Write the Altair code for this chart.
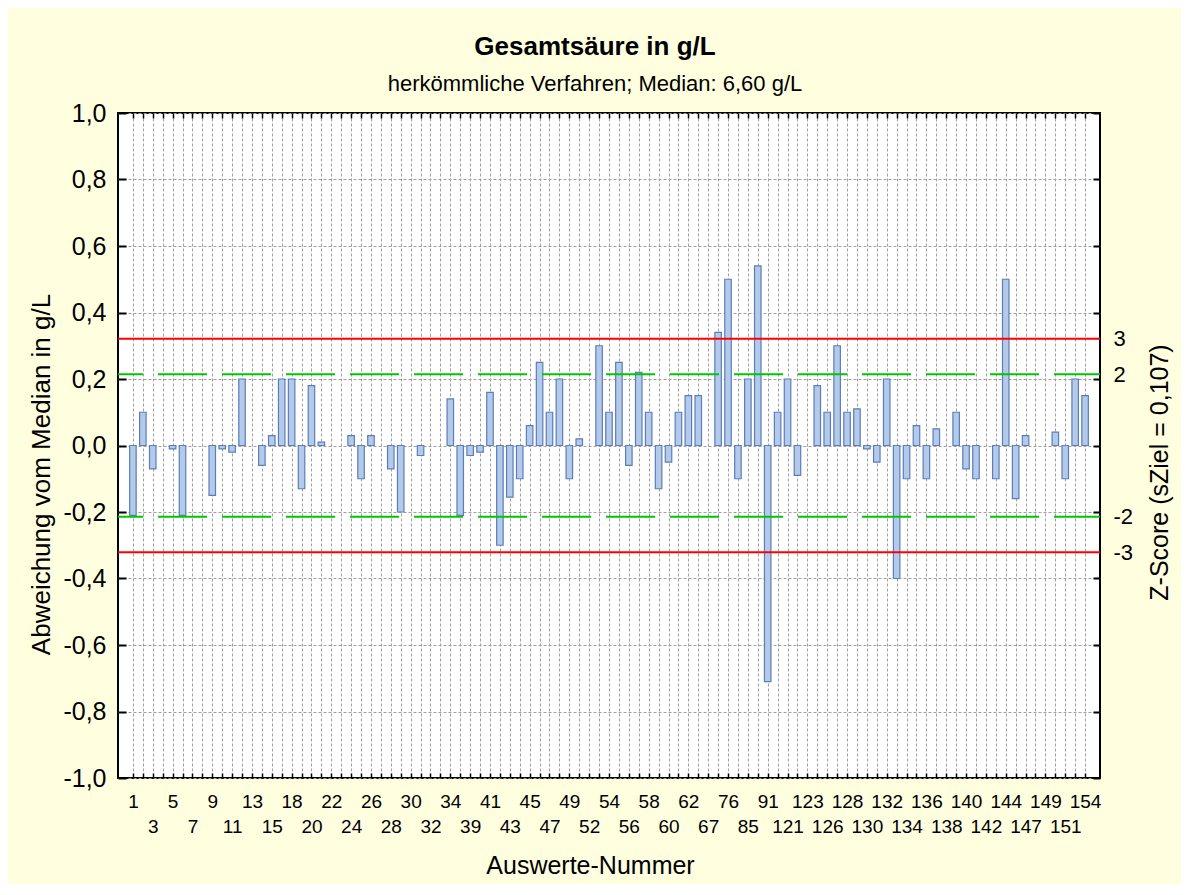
import altair as alt
import pandas as pd

# ---------------- data ----------------
ids = [1, 2, 3, 4, 5, 6, 7, 8, 9, 10, 11, 12, 13, 14, 15, 17, 18, 19, 20, 21,
       22, 23, 24, 25, 26, 27, 28, 29, 30, 31, 32, 33, 34, 36, 39, 40, 41, 42, 43, 44,
       45, 46, 47, 48, 49, 51, 52, 53, 54, 55, 56, 57, 58, 59, 60, 61, 62, 64, 67, 70,
       76, 80, 85, 88, 91, 100, 121, 122, 123, 125, 126, 127, 128, 129, 130, 131, 132, 133, 134, 135,
       136, 137, 138, 139, 140, 141, 142, 143, 144, 146, 147, 148, 149, 150, 151, 153, 154]

deviation = [-0.21, 0.10, -0.07, 0.0, -0.01, -0.21, 0.0, 0.0, -0.15, -0.01,
             -0.02, 0.20, 0.0, -0.06, 0.03, 0.20, 0.20, -0.13, 0.18, 0.01,
             0.0, 0.0, 0.03, -0.10, 0.03, 0.0, -0.07, -0.20, 0.0, -0.03,
             0.0, 0.0, 0.14, -0.21, -0.03, -0.02, 0.16, -0.30, -0.155, -0.10,
             0.06, 0.25, 0.10, 0.20, -0.10, 0.02, 0.0, 0.30, 0.10, 0.25,
             -0.06, 0.22, 0.10, -0.13, -0.05, 0.10, 0.15, 0.15, 0.0, 0.34,
             0.50, -0.10, 0.20, 0.54, -0.71, 0.10, 0.20, -0.09, 0.0, 0.18,
             0.10, 0.30, 0.10, 0.11, -0.01, -0.05, 0.20, -0.40, -0.10, 0.06,
             -0.10, 0.05, 0.0, 0.10, -0.07, -0.10, 0.0, -0.10, 0.50, -0.16,
             0.03, 0.0, 0.0, 0.04, -0.10, 0.20, 0.15]

y_ticks = [-1.0, -0.8, -0.6, -0.4, -0.2, 0.0, 0.2, 0.4, 0.6, 0.8, 1.0]
s_ziel = 0.107
z_warn = [2, -2]
z_action = [3, -3]

# ---------------- build table ----------------
pos = list(range(1, len(ids) + 1))
df = pd.DataFrame({"k": pos, "id": ids, "v": deviation})
warn_df = pd.DataFrame({"z": [z * s_ziel for z in z_warn]})
action_df = pd.DataFrame({"z": [z * s_ziel for z in z_action]})
z_positions = [z * s_ziel for z in z_action + z_warn]

W, H = 982, 665
FONT = "Liberation Sans"
BG = "#FFFFE0"

x_scale = alt.Scale(domain=[0, len(ids) + 1], nice=False, zero=False)
y_scale = alt.Scale(domain=[-1, 1], nice=False, zero=False)

id_array = "['', " + ", ".join("'%d'" % i for i in ids) + "]"
x_label_expr = (
    "datum.value % 4 == 1 ? {a}[datum.value] : "
    "(datum.value % 4 == 3 ? [' ', {a}[datum.value]] : '')"
).format(a=id_array)

y_label_expr = "replace(replace(format(datum.value, '.1f'), '.', ','), '\u2212', '-')"
is_grid_step = "abs(datum.value * 5 - round(datum.value * 5)) < 0.001"
z_label_expr = (
    "(" + is_grid_step + ") ? '' : "
    "replace(format(datum.value / " + str(s_ziel) + ", '.0f'), '\u2212', '-')"
)

bars = alt.Chart(df).transform_filter("datum.v != 0").mark_bar(
    size=6.5, fill="#B3CAEA", stroke="#5B7EB8", strokeWidth=1.2
).encode(
    x=alt.X("k:Q", scale=x_scale, axis=alt.Axis(
        orient="bottom", values=pos, labelExpr=x_label_expr,
        grid=True, gridDash=[3, 2], gridColor="#A0A0A0", gridWidth=1,
        ticks=True, tickSize=5, tickWidth=1.5, tickColor="black", offset=-5,
        domain=False, labelFont=FONT, labelFontSize=19, labelColor="black",
        labelPadding=14, labelLineHeight=25, labelBaseline="top",
        labelOverlap=False, labelFlush=False, labelBound=False,
        title="Auswerte-Nummer", titleFont=FONT, titleFontSize=25,
        titleFontWeight="normal", titleColor="black", titlePadding=17,
        titleX=472,
    )),
    y=alt.Y("v:Q", scale=y_scale, axis=alt.Axis(
        orient="left", values=y_ticks, labelExpr=y_label_expr,
        grid=True, gridDash=[3, 2], gridColor="#A0A0A0", gridWidth=1,
        ticks=True, tickSize=8, tickWidth=2, tickColor="black", offset=-8,
        domain=False, labelFont=FONT, labelFontSize=25, labelColor="black",
        labelPadding=12, labelOverlap=False, labelFlush=False,
        title="Abweichung vom Median in g/L", titleFont=FONT, titleFontSize=26,
        titleFontWeight="normal", titleColor="black", titlePadding=8,
        titleY=361,
    )),
    y2=alt.datum(0),
)

frame_axes = alt.Chart(df).mark_point(opacity=0).encode(
    x=alt.X("k:Q", scale=x_scale, axis=alt.Axis(
        orient="top", values=pos, labels=False, grid=False, domain=False,
        ticks=True, tickSize=5, tickWidth=1.5, tickColor="black", offset=-5,
        title=None,
    )),
    y=alt.Y("v:Q", scale=y_scale, axis=alt.Axis(
        orient="right", values=y_ticks + z_positions, labelExpr=z_label_expr,
        grid=False, domain=False, ticks=True, tickSize=7, tickWidth=2,
        tickColor="black", offset=-7,
        tickOpacity={"condition": {"test": is_grid_step, "value": 1}, "value": 0},
        labelFont=FONT, labelFontSize=22, labelColor="black", labelPadding=13,
        labelOverlap=False, labelFlush=False, labelBaseline="middle",
        title="Z-Score (sZiel = 0,107)", titleFont=FONT, titleFontSize=25,
        titleFontWeight="normal", titleColor="black", titleAngle=270,
        titlePadding=40, titleY=359,
    )),
)

warn_rules = alt.Chart(warn_df).mark_rule(
    color="#00C800", strokeWidth=2, strokeDash=[49, 15], strokeDashOffset=3
).encode(y=alt.Y("z:Q", scale=y_scale, axis=None))

action_rules = alt.Chart(action_df).mark_rule(
    color="#FF0000", strokeWidth=2
).encode(y=alt.Y("z:Q", scale=y_scale, axis=None))

chart = alt.layer(bars, frame_axes, warn_rules, action_rules).resolve_axis(
    x="independent", y="independent"
).properties(
    width=W, height=H,
    autosize=alt.AutoSizeParams(type="none"),
    padding={"left": 110, "top": 105, "right": 81, "bottom": 106},
    background=BG,
    title=alt.TitleParams(
        text="Gesamtsäure in g/L",
        subtitle="herkömmliche Verfahren; Median: 6,60 g/L",
        font=FONT, fontSize=26, fontWeight="bold", color="black",
        subtitleFont=FONT, subtitleFontSize=22, subtitleColor="black",
        subtitlePadding=14, anchor="middle", frame="group", dx=-14, offset=6,
    ),
).configure_view(stroke="black", strokeWidth=2, fill="white")

chart.save("out.html", embed_options={"renderer": "svg", "actions": False})
